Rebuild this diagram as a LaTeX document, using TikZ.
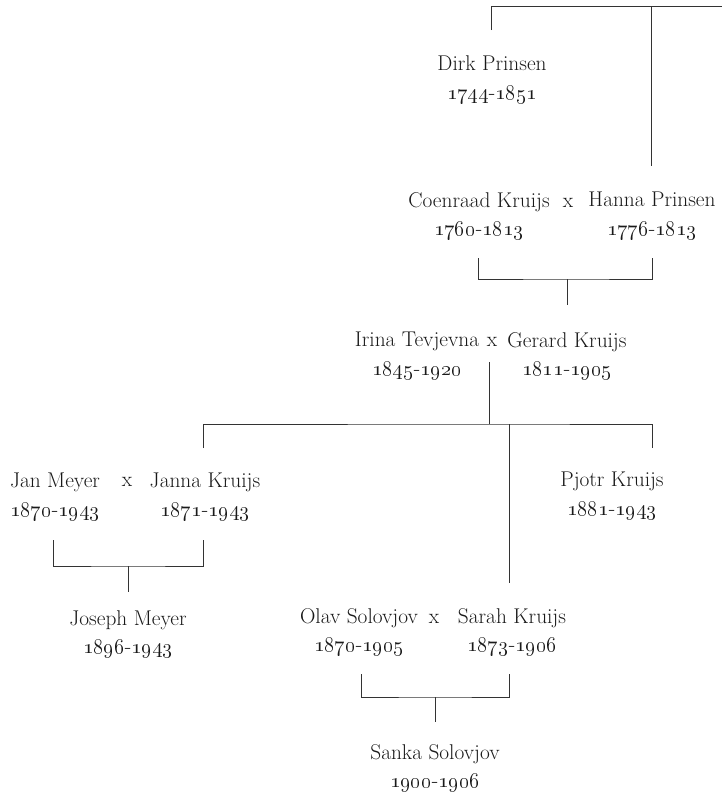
\RequirePackage{fix-cm}
\documentclass[tikz,border=0pt]{standalone}
\usepackage{tikz}

\newcommand{\yrs}[2]{\oldstylenums{#1}-\oldstylenums{#2}}

\begin{document}
\begin{tikzpicture}[x=0.75pt,y=-0.75pt,
    person/.style={align=center,inner sep=0pt,text=black!90,
      font=\fontsize{16}{21.5}\selectfont},
    marr/.style={inner sep=0pt,text=black!90,font=\fontsize{16}{21.5}\selectfont},
    tie/.style={line width=0.6pt,black!80}]
        \useasboundingbox (0,0) rectangle (722,796);

        % people
        \node[person] (dirk) at (492,80) {Dirk Prinsen\\\yrs{1744}{1851}};
        \node[person] (coen) at (479,216) {Coenraad Kruijs\\\yrs{1760}{1813}};
        \node[person] (hanna) at (652,216) {Hanna Prinsen\\\yrs{1776}{1813}};
        \node[person] (irina) at (417,356) {Irina Tevjevna\\\yrs{1845}{1920}};
        \node[person] (gerard) at (567,356) {Gerard Kruijs\\\yrs{1811}{1905}};
        \node[person] (jan) at (55,497) {Jan Meyer\\\yrs{1870}{1943}};
        \node[person] (janna) at (205,497) {Janna Kruijs\\\yrs{1871}{1943}};
        \node[person] (pjotr) at (612,496) {Pjotr Kruijs\\\yrs{1881}{1943}};
        \node[person] (joseph) at (128,634) {Joseph Meyer\\\yrs{1896}{1943}};
        \node[person] (olav) at (359,632) {Olav Solovjov\\\yrs{1870}{1905}};
        \node[person] (sarah) at (512,632) {Sarah Kruijs\\\yrs{1873}{1906}};
        \node[person] (sanka) at (435,768) {Sanka Solovjov\\\yrs{1900}{1906}};

        % marriages
        \node[marr] (x1) at (568,203) {x};
        \node[marr] (x2) at (492,342) {x};
        \node[marr] (x3) at (127,482) {x};
        \node[marr] (x4) at (434,619) {x};

        % top
        \coordinate (topl) at (491,6);
        \coordinate (topr) at (722,6);
        \draw[tie] (491,30) -- (topl) -- (topr);
        \draw[tie] (651,6) -- (651,166);

        % Coenraad x Hanna
        \coordinate (cb) at (567,279);
        \draw[tie] (478,258) |- (cb) -| (652,258);
        \draw[tie] (cb) -- (567,305);

        % Irina x Gerard
        \coordinate (ib) at (489,424);
        \draw[tie] (489,362) -- (ib);
        \draw[tie] (203,448) |- (ib) -| (652,448);
        \draw[tie] (509,424) -- (509,583);

        % Jan x Janna
        \coordinate (jb) at (128,566);
        \draw[tie] (53,540) |- (jb) -| (203,540);
        \draw[tie] (jb) -- (128,592);

        % Olav x Sarah
        \coordinate (ob) at (435,697);
        \draw[tie] (361,674) |- (ob) -| (509,674);
        \draw[tie] (ob) -- (435,722);

    \end{tikzpicture}
\end{document}
